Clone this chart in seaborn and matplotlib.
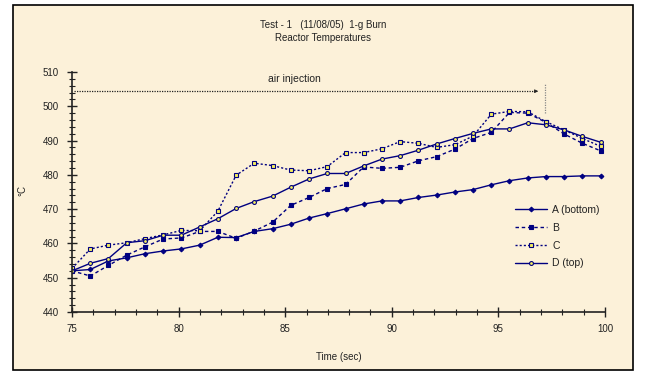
import matplotlib
matplotlib.use("Agg")
import matplotlib.pyplot as plt
import seaborn as sns
from matplotlib.patches import Rectangle
from matplotlib.ticker import MultipleLocator

# ---- data ----
time_sec = [75.00, 75.86, 76.71, 77.57, 78.42, 79.28, 80.13, 80.99, 81.84, 82.70,
            83.55, 84.41, 85.26, 86.12, 86.97, 87.83, 88.68, 89.54, 90.39, 91.25,
            92.10, 92.96, 93.81, 94.67, 95.52, 96.38, 97.23, 98.09, 98.94, 99.80]
temp_a = [452.0, 452.4, 454.9, 455.8, 457.0, 457.8, 458.4, 459.5, 461.8, 461.7,
          463.5, 464.3, 465.6, 467.4, 468.7, 470.1, 471.5, 472.4, 472.4, 473.4,
          474.1, 475.0, 475.7, 477.1, 478.3, 479.1, 479.5, 479.5, 479.7, 479.7]
temp_b = [452.0, 450.5, 453.6, 456.6, 459.0, 461.3, 461.6, 463.5, 463.5, 461.5,
          463.6, 466.2, 471.1, 473.4, 476.0, 477.2, 482.3, 481.9, 482.2, 484.1,
          485.3, 487.5, 490.6, 492.4, 498.2, 498.0, 495.3, 491.9, 489.2, 487.0]
temp_c = [452.7, 458.4, 459.5, 460.2, 461.4, 462.5, 463.8, 463.7, 469.4, 479.9,
          483.4, 482.7, 481.4, 481.2, 482.4, 486.5, 486.5, 487.6, 489.7, 489.2,
          488.0, 488.8, 491.3, 497.7, 498.5, 498.4, 495.5, 493.1, 490.6, 488.3]
temp_d = [452.0, 454.2, 455.6, 460.2, 460.8, 462.4, 462.4, 464.8, 467.2, 470.2,
          472.2, 473.8, 476.4, 478.8, 480.4, 480.4, 482.6, 484.6, 485.6, 487.2,
          489.0, 490.6, 492.1, 493.4, 493.4, 495.2, 494.6, 493.1, 491.2, 489.5]
series_labels = ["A (bottom)", "B", "C", "D (top)"]
x_ticks = [75, 80, 85, 90, 95, 100]
y_ticks = [440, 450, 460, 470, 480, 490, 500, 510]
title_lines = ["Test - 1   (11/08/05)  1-g Burn", "Reactor Temperatures"]

W, H = 646, 383
navy = "#000080"
paper = "#FCF1D9"

sns.set_theme(style="white")
plt.rcParams['font.family'] = ['Liberation Sans', 'DejaVu Sans']

fig = plt.figure(figsize=(W / 100, H / 100), dpi=100)
fig.patch.set_facecolor("white")
fig.add_artist(Rectangle((13 / W, 1 - 370 / H), 620 / W, 365 / H,
                         transform=fig.transFigure, facecolor=paper,
                         edgecolor="black", lw=1.2, zorder=-5))

ax = fig.add_axes([72 / W, 1 - 312 / H, 533 / W, 240 / H])
ax.set_facecolor("none")

styles = [
    dict(marker="D", markersize=2.4, linestyle="-", markerfacecolor=navy, markeredgecolor=navy),
    dict(marker="s", markersize=2.8, linestyle=(0, (2.5, 2)), markerfacecolor=navy, markeredgecolor=navy),
    dict(marker="s", markersize=3.0, linestyle=(0, (1.5, 1.5)), markerfacecolor="#F5F060", markeredgecolor=navy),
    dict(marker="o", markersize=2.8, linestyle="-", markerfacecolor="#F5F060", markeredgecolor=navy),
]
for vals, lab, st in zip([temp_a, temp_b, temp_c, temp_d], series_labels, styles):
    sns.lineplot(x=time_sec, y=vals, ax=ax, color=navy, lw=1.0,
                 markeredgewidth=0.8, label=lab, **st)

ax.set_xlim(75, 100)
ax.set_ylim(440, 510)
ax.set_xticks(x_ticks)
ax.set_yticks(y_ticks)
ax.xaxis.set_minor_locator(MultipleLocator(1))
ax.yaxis.set_minor_locator(MultipleLocator(2))
ax.tick_params(axis="both", which="major", direction="inout", length=7, width=1.0,
               colors="#222222", labelsize=7, labelcolor="#222222", bottom=True, left=True)
ax.tick_params(axis="both", which="minor", direction="inout", length=4, width=0.8,
               colors="#222222", bottom=True, left=True)
ax.tick_params(axis="x", pad=5)
ax.tick_params(axis="y", pad=6)
for s in ["top", "right"]:
    ax.spines[s].set_visible(False)
for s in ["left", "bottom"]:
    ax.spines[s].set_color("#222222")
    ax.spines[s].set_linewidth(1.2)
ax.grid(False)

ax.set_xlabel("Time (sec)", fontsize=7, color="#222222")
ax.xaxis.set_label_coords(0.5, (312 - 357) / 240)
ax.xaxis.label.set_va("center")
ax.set_ylabel("°C", fontsize=7, color="#222222")
ax.yaxis.set_label_coords((22 - 72) / 533, 0.508)
ax.yaxis.label.set_va("center")

fig.text(323 / W, 1 - 25 / H, title_lines[0], ha="center", va="center", fontsize=7, color="#222222")
fig.text(323 / W, 1 - 38 / H, title_lines[1], ha="center", va="center", fontsize=7, color="#222222")

# air injection annotation
ax.plot([75.1, 96.7], [504.4, 504.4], color="#222222", lw=0.9, ls=(0, (1, 1)))
ax.annotate("", xy=(97.0, 504.4), xytext=(96.6, 504.4),
            arrowprops=dict(arrowstyle="-|>", color="#222222", lw=0.6, mutation_scale=5))
ax.plot([97.2, 97.2], [498.0, 506.8], color="#888888", lw=0.9, ls=(0, (1, 1)))
ax.text(85.44, 507.9, "air injection", ha="center", va="center", fontsize=7.5, color="#222222")

leg = ax.legend(loc="upper left", bbox_to_anchor=((515 - 72) / 533, (312 - 205) / 240),
                frameon=False, fontsize=7.5, handlelength=3.1, handletextpad=0.5,
                labelspacing=0.75, borderpad=0, borderaxespad=0)
for t in leg.get_texts():
    t.set_color("#222222")

fig.savefig("out.png", dpi=100, facecolor=fig.get_facecolor())
